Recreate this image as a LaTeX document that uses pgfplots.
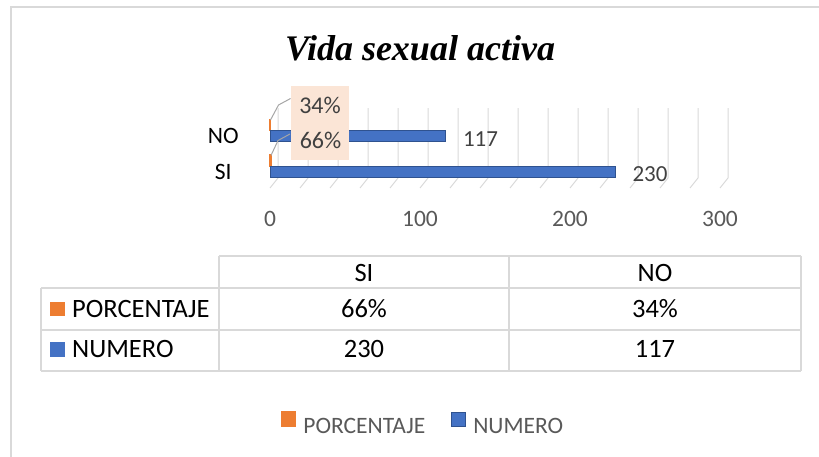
\documentclass[border=0pt]{standalone}
\usepackage{pgfplots}
\pgfplotsset{compat=1.18}
\usepackage{fontspec}
\setmainfont{Carlito}
\newfontfamily\titlefont{Liberation Serif}
\definecolor{barblue}{HTML}{4472C4}
\definecolor{barblueedge}{HTML}{2F528F}
\definecolor{barorange}{HTML}{ED7D31}
\definecolor{labelfill}{HTML}{FBE5D6}
\definecolor{gridc}{HTML}{D9D9D9}
\definecolor{txtgray}{HTML}{595959}
\definecolor{lblgray}{HTML}{404040}
\newcommand\fs[1]{\fontsize{#1bp}{#1bp}\selectfont}

\begin{document}
\begin{tikzpicture}
\path[use as bounding box] (0,0) rectangle (819bp,457bp);
% outer chart frame (right and bottom cut off)
\draw[gridc, line width=1.2bp] (11bp,0) -- (11bp,450bp) -- (819bp,450bp);
\node[anchor=base, inner sep=0] at (420bp,396bp) {\titlefont\bfseries\itshape\fs{36}Vida sexual activa};

\begin{axis}[
  at={(270bp,279bp)}, anchor=south west,
  scale only axis, width=450bp, height=70bp,
  xmin=0, xmax=300, ymin=-0.183, ymax=1.789,
  xbar, bar width=11bp,
  axis line style={draw=none}, major tick style={draw=none},
  xtick={0,100,200,300},
  ytick={0,1}, yticklabels={SI,NO},
  /pgf/number format/assume math mode=true,
  xticklabel style={anchor=center, yshift=-41bp, font=\fs{23.5}, text=txtgray},
  yticklabel style={anchor=center, xshift=-42.5bp, font=\fs{23.5}},
  clip=false,
  legend style={at={(0.3378,-3.514)}, anchor=center, draw=none, fill=none,
    legend columns=-1, font=\fs{23.5}, text=txtgray,
    nodes={inner xsep=0bp},
    /tikz/every odd column/.append style={column sep=7bp},
    /tikz/every even column/.append style={column sep=26bp}},
  legend image code/.code={\fill[#1] (0bp,0bp) rectangle (14bp,14bp);},
]
% 3D style grid: back wall lines and floor diagonals
\pgfplotsinvokeforeach{0,20,...,300}{
  \draw[gridc, line width=1bp] ([xshift=8bp]axis cs:#1,1.789) -- ([xshift=8bp]axis cs:#1,-0.183) -- ([yshift=-10bp]axis cs:#1,-0.183);
}
\addplot[fill=barorange, draw=barorange, line width=1.6bp, bar shift=11bp,
  nodes near coords, point meta=explicit symbolic,
  every node near coord/.append style={anchor=center, xshift=49.5bp, yshift=20bp,
    fill=labelfill, minimum width=58bp, minimum height=38bp, inner sep=0,
    font=\fs{24}, text=lblgray}]
  coordinates {(0.66,0) [66\%] (0.34,1) [34\%]};
\addlegendentry{PORCENTAJE}
\addplot[fill=barblue, draw=barblueedge, line width=1bp, bar shift=0bp,
  nodes near coords,
  every node near coord/.append style={anchor=west, inner sep=0, xshift=17bp, yshift=-3bp,
    font=\fs{23}, text=lblgray}]
  coordinates {(230,0) (117,1)};
\addlegendentry{NUMERO}
% leader lines to the percentage labels
\draw[gray!70, line width=1bp] ([yshift=16bp]axis cs:0.34,1) -- ++(8bp,15bp) -- ++(12bp,0);
\draw[gray!70, line width=1bp] ([yshift=16bp]axis cs:0.66,0) -- ++(7bp,15bp) -- ++(12bp,0);
\end{axis}

% data table
\begin{scope}[gridc, line width=1.5bp]
\draw (219bp,201bp) -- (801bp,201bp);
\draw (41bp,169bp) -- (801bp,169bp);
\draw (41bp,127bp) -- (801bp,127bp);
\draw (41bp,86bp) -- (801bp,86bp);
\draw (41bp,169bp) -- (41bp,86bp);
\draw (219bp,201bp) -- (219bp,86bp);
\draw (509bp,201bp) -- (509bp,86bp);
\draw (801bp,201bp) -- (801bp,86bp);
\end{scope}
\fill[barorange] (50bp,141bp) rectangle (65bp,155bp);
\fill[barblue] (50bp,100bp) rectangle (65bp,115bp);
\begin{scope}[every node/.style={inner sep=0, font=\fs{26.5}}]
\node[anchor=base] at (364bp,175.5bp) {SI};
\node[anchor=base] at (655bp,175.5bp) {NO};
\node[anchor=base west] at (72bp,139.5bp) {PORCENTAJE};
\node[anchor=base west] at (72bp,99bp) {NUMERO};
\node[anchor=base] at (364bp,139.5bp) {66\%};
\node[anchor=base] at (655bp,139.5bp) {34\%};
\node[anchor=base] at (364bp,99bp) {230};
\node[anchor=base] at (655bp,99bp) {117};
\end{scope}
\end{tikzpicture}
\end{document}
